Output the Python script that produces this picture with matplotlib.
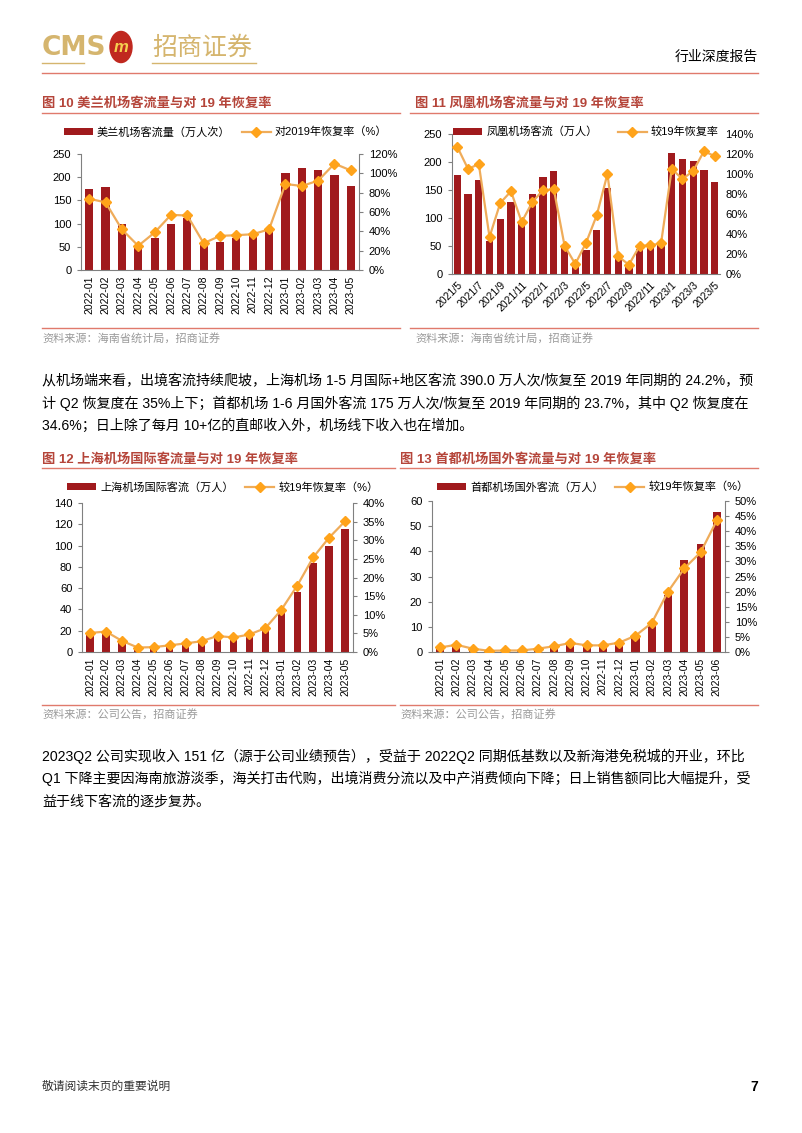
import numpy as np
import matplotlib
matplotlib.use('Agg')
import matplotlib.pyplot as plt
from matplotlib.lines import Line2D
from matplotlib.patches import Circle

plt.rcParams['font.family'] = ['Liberation Sans', 'Noto Sans CJK SC']
plt.rcParams['axes.unicode_minus'] = False

# ---- data ----
months22_23 = ['2022-01', '2022-02', '2022-03', '2022-04', '2022-05', '2022-06',
               '2022-07', '2022-08', '2022-09', '2022-10', '2022-11', '2022-12',
               '2023-01', '2023-02', '2023-03', '2023-04', '2023-05']
months13 = months22_23 + ['2023-06']
months11 = ['2021/5', '2021/6', '2021/7', '2021/8', '2021/9', '2021/10', '2021/11',
            '2021/12', '2022/1', '2022/2', '2022/3', '2022/4', '2022/5', '2022/6',
            '2022/7', '2022/8', '2022/9', '2022/10', '2022/11', '2022/12',
            '2023/1', '2023/2', '2023/3', '2023/4', '2023/5']

meilan_pax = [174, 178, 99, 47, 68, 99, 112, 58, 61, 68, 78, 86, 209, 220, 215, 204, 182]
meilan_rate = [73.7, 70, 42, 25, 38.8, 57, 56.4, 27.7, 35.3, 36, 37, 42, 89, 86.9, 92.4, 110, 103]

fenghuang_pax = [176, 143, 167, 59, 98, 129, 91, 143, 173, 184, 46, 14, 43, 79, 153,
                 30, 14, 45, 47, 55, 216, 206, 202, 185, 165]
fenghuang_rate = [127, 105, 110, 37, 71, 82.7, 52, 72, 84, 84.7, 28.3, 10, 31, 58.7, 100,
                  17.7, 9.3, 28, 28.7, 30.7, 105, 95, 103, 122.7, 118]

shanghai_pax = [17, 18, 10, 3, 4, 5, 7, 9.4, 14.4, 12.5, 14.7, 20, 37.6, 56, 84, 99.7, 116]
shanghai_rate = [5.1, 5.5, 3.0, 1.2, 1.3, 1.8, 2.3, 2.9, 4.3, 3.9, 4.7, 6.4, 11.3, 17.8, 25.4, 30.7, 35.1]

capital_pax = [1.5, 2.5, 1.0, 0.3, 0.5, 0.6, 1.0, 2.2, 3.5, 2.8, 2.5, 3.6, 6.2, 11, 22.7, 36.5, 43, 55.7]
capital_rate = [1.5, 2.4, 1.1, 0.4, 0.5, 0.5, 1.1, 1.9, 3.0, 2.2, 2.2, 3.1, 5.4, 9.6, 20, 27.7, 33, 43.6]

para1 = ['从机场端来看，出境客流持续爬坡，上海机场 1-5 月国际+地区客流 390.0 万人次/恢复至 2019 年同期的 24.2%，预',
         '计 Q2 恢复度在 35%上下；首都机场 1-6 月国外客流 175 万人次/恢复至 2019 年同期的 23.7%，其中 Q2 恢复度在',
         '34.6%；日上除了每月 10+亿的直邮收入外，机场线下收入也在增加。']
para2 = ['2023Q2 公司实现收入 151 亿（源于公司业绩预告），受益于 2022Q2 同期低基数以及新海港免税城的开业，环比',
         'Q1 下降主要因海南旅游淡季，海关打击代购，出境消费分流以及中产消费倾向下降；日上销售额同比大幅提升，受',
         '益于线下客流的逐步复苏。']

BAR = '#a01a1d'
LINE = '#efac5a'
MARK = '#ffa31a'
TITLE = '#b5453a'
RULE = '#e07a6c'
GOLD = '#d5b56e'

W, H = 802, 1133
fig = plt.figure(figsize=(W / 100, H / 100), dpi=100)


def box(l, t, r, b):
    return [l / W, 1 - b / H, (r - l) / W, (b - t) / H]


def ftext(x, y, s, **kw):
    fig.text(x / W, 1 - y / H, s, **kw)


def hline(x0, x1, y, color, lw=1.0):
    fig.add_artist(Line2D([x0 / W, x1 / W], [1 - y / H, 1 - y / H], color=color, lw=lw))


def combo(rect, labels, pax, rate, ymax, ystep, rmax, rstep, barname, ratename,
          barw=0.5, every=1, rot=90, right_spine=True, leg_x=0.5, leg_y=1.1, colsp=1.0):
    ax = fig.add_axes(rect)
    x = np.arange(len(labels))
    b = ax.bar(x, pax, width=barw, color=BAR, zorder=2, label=barname)
    ax.set_xlim(-0.5, len(labels) - 0.5)
    ax.set_ylim(0, ymax)
    ax.set_yticks(np.arange(0, ymax + 0.1, ystep))
    ax.set_xticks(x[::every])
    if rot == 90:
        ax.set_xticklabels(labels[::every], rotation=90, fontsize=7.5)
    else:
        ax.set_xticklabels(labels[::every], rotation=rot, ha='right',
                           rotation_mode='anchor', fontsize=7.5)
    ax.tick_params(axis='y', labelsize=8, length=3, color='#808080', pad=4)
    ax.tick_params(axis='x', length=0, pad=4)
    for s in ['top', 'right']:
        ax.spines[s].set_visible(False)
    for s in ['left', 'bottom']:
        ax.spines[s].set_color('#808080')
        ax.spines[s].set_linewidth(0.8)

    ax2 = ax.twinx()
    ln, = ax2.plot(x, rate, color=LINE, lw=1.6, marker='D', ms=5,
                   mfc=MARK, mec=MARK, zorder=3, label=ratename)
    ax2.set_ylim(0, rmax)
    ax2.set_yticks(np.arange(0, rmax + 0.1, rstep))
    ax2.set_yticklabels(['%d%%' % v for v in np.arange(0, rmax + 0.1, rstep)])
    ax2.tick_params(axis='y', labelsize=8, length=3 if right_spine else 0,
                    color='#808080', pad=4)
    for s in ['top', 'left', 'bottom']:
        ax2.spines[s].set_visible(False)
    ax2.spines['right'].set_visible(right_spine)
    ax2.spines['right'].set_color('#808080')
    ax2.spines['right'].set_linewidth(0.8)

    ax2.legend([b, ln], [barname, ratename], loc='center', bbox_to_anchor=(leg_x, leg_y),
               ncol=2, frameon=False, fontsize=8, handlelength=2.6, handleheight=0.6,
               columnspacing=colsp, handletextpad=0.4)
    return ax


# ---- header ----
ftext(42, 48, 'CMS', fontsize=19, fontweight='bold', color=GOLD, va='center',
      family='Liberation Sans Narrow')
fig.add_artist(Circle((121 / W, 1 - 47 / H), 11 / W, transform=fig.transFigure,
                      color='#c0281f', zorder=3))
ftext(121, 47, 'm', fontsize=12, fontweight='bold', color='#f5d050', ha='center',
      va='center', style='italic', zorder=4)
ftext(152, 48, '招商证券', fontsize=18, color=GOLD, va='center', family='Noto Sans CJK SC')
hline(42, 84, 63, GOLD, 1.0)
hline(152, 256, 63, GOLD, 1.0)
ftext(758, 57, '行业深度报告', fontsize=10, ha='right', va='center')
hline(42, 758, 73, RULE, 1.0)

# ---- chart titles ----
ftext(42, 103, '图 10 美兰机场客流量与对 19 年恢复率', fontsize=9.5, fontweight='bold',
      color=TITLE, va='center')
ftext(415, 103, '图 11 凤凰机场客流量与对 19 年恢复率', fontsize=9.5, fontweight='bold',
      color=TITLE, va='center')
hline(42, 400, 113, RULE, 1.0)
hline(410, 758, 113, RULE, 1.0)

combo(box(81, 154, 359, 270), months22_23, meilan_pax, meilan_rate, 250, 50, 120, 20,
      '美兰机场客流量（万人次）', '对2019年恢复率（%）', barw=0.5,
      leg_x=0.52, leg_y=1.19)
combo(box(452, 134, 720, 274), months11, fenghuang_pax, fenghuang_rate, 250, 50, 140, 20,
      '凤凰机场客流（万人）', '较19年恢复率', barw=0.68, every=2, rot=45,
      right_spine=False, leg_x=0.5, leg_y=1.015, colsp=1.8)

hline(42, 400, 328, RULE, 1.0)
hline(410, 758, 328, RULE, 1.0)
ftext(42, 338, '资料来源：海南省统计局，招商证券', fontsize=8, color='#9a9a9a', va='center')
ftext(415, 338, '资料来源：海南省统计局，招商证券', fontsize=8, color='#9a9a9a', va='center')

# ---- paragraph 1 ----
for i, line in enumerate(para1):
    ftext(42, 381 + i * 22.5, line, fontsize=10.1, va='center')

ftext(42, 459, '图 12 上海机场国际客流量与对 19 年恢复率', fontsize=9.5, fontweight='bold',
      color=TITLE, va='center')
ftext(400, 459, '图 13 首都机场国外客流量与对 19 年恢复率', fontsize=9.5, fontweight='bold',
      color=TITLE, va='center')
hline(42, 395, 468, RULE, 1.0)
hline(400, 758, 468, RULE, 1.0)

combo(box(82, 503, 353, 652), months22_23, shanghai_pax, shanghai_rate, 140, 20, 40, 5,
      '上海机场国际客流（万人）', '较19年恢复率（%）', barw=0.46,
      leg_x=0.52, leg_y=1.107)
combo(box(432, 501, 725, 652), months13, capital_pax, capital_rate, 60, 10, 50, 5,
      '首都机场国外客流（万人）', '较19年恢复率（%）', barw=0.5,
      leg_x=0.55, leg_y=1.093)

hline(42, 395, 705, RULE, 1.0)
hline(400, 758, 705, RULE, 1.0)
ftext(42, 714, '资料来源：公司公告，招商证券', fontsize=8, color='#9a9a9a', va='center')
ftext(400, 714, '资料来源：公司公告，招商证券', fontsize=8, color='#9a9a9a', va='center')

# ---- paragraph 2 ----
for i, line in enumerate(para2):
    ftext(42, 756 + i * 22.5, line, fontsize=10.1, va='center')

# ---- footer ----
ftext(42, 1087, '敬请阅读末页的重要说明', fontsize=8.5, color='#333333', va='center')
ftext(758, 1087, '7', fontsize=10, fontweight='bold', ha='right', va='center')

fig.savefig('out.png', dpi=100)
